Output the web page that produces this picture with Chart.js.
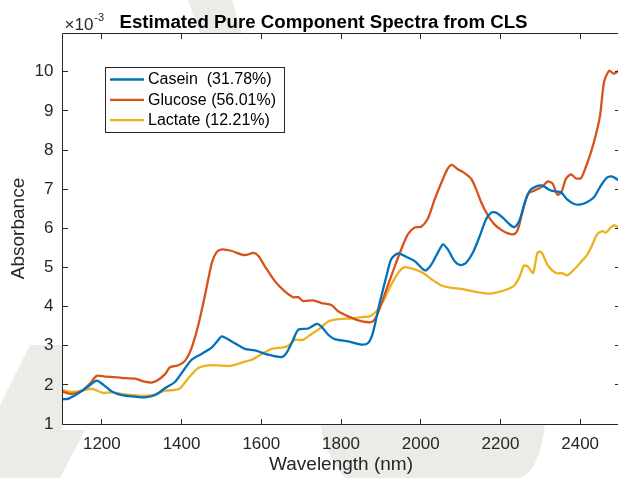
<!DOCTYPE html>
<html>
<head>
<meta charset="utf-8">
<title>Estimated Pure Component Spectra from CLS</title>
<script src="https://cdn.jsdelivr.net/npm/chart.js@4.4.1/dist/chart.umd.min.js"></script>
<style>
  html, body { margin: 0; padding: 0; background: #ffffff; overflow: hidden; }
  #wrap { position: relative; width: 624px; height: 478px; }
</style>
</head>
<body>
<div id="wrap"><canvas id="spectra" width="624" height="478"></canvas></div>
<script>
// Estimated pure-component spectra (absorbance in units of 10^-3) vs wavelength (nm)
const caseinNm = [1100,1117,1142,1167,1187,1204,1225,1250,1283,1308,1334,1359,1384,1409,1425,1450,1476,1490,1501,1526,1559,1584,1618,1651,1663,1680,1693,1718,1739,1751,1768,1784,1818,1851,1868,1880,1897,1914,1926,1943,1960,1985,2006,2014,2027,2043,2056,2068,2085,2100,2114,2131,2148,2164,2177,2189,2206,2223,2235,2248,2260,2273,2290,2306,2323,2339,2352,2368,2385,2402,2418,2435,2452,2468,2481,2500];
const caseinAbs = [1.63,1.65,1.79,1.97,2.11,2.00,1.83,1.74,1.70,1.68,1.74,1.92,2.08,2.43,2.64,2.79,2.96,3.12,3.24,3.11,2.92,2.88,2.77,2.71,2.81,3.15,3.41,3.44,3.56,3.49,3.28,3.17,3.11,3.03,3.07,3.33,4.09,4.78,5.21,5.36,5.29,5.16,4.95,4.93,5.08,5.38,5.59,5.46,5.16,5.06,5.12,5.38,5.80,6.23,6.40,6.40,6.27,6.10,6.03,6.21,6.62,6.95,7.07,7.09,6.98,6.94,6.92,6.73,6.62,6.61,6.67,6.80,7.09,7.30,7.32,7.20];

const glucoseNm = [1100,1125,1150,1171,1187,1208,1233,1258,1283,1308,1325,1342,1359,1371,1392,1409,1425,1442,1459,1476,1488,1501,1526,1551,1563,1580,1593,1609,1634,1659,1680,1693,1705,1730,1751,1776,1793,1818,1843,1868,1880,1893,1914,1935,1951,1968,1985,2001,2018,2035,2052,2067,2078,2093,2110,2127,2139,2152,2169,2185,2202,2219,2234,2244,2256,2269,2285,2304,2319,2331,2343,2353,2364,2377,2389,2402,2414,2427,2439,2450,2460,2473,2484,2500];
const glucoseAbs = [1.83,1.77,1.85,2.04,2.23,2.21,2.20,2.17,2.16,2.08,2.06,2.13,2.28,2.45,2.50,2.62,2.94,3.53,4.30,5.12,5.39,5.46,5.42,5.33,5.32,5.37,5.29,5.03,4.65,4.39,4.24,4.24,4.14,4.16,4.09,4.04,3.88,3.75,3.65,3.60,3.62,3.84,4.44,5.03,5.46,5.85,6.02,6.04,6.25,6.74,7.17,7.51,7.62,7.51,7.41,7.26,7.00,6.66,6.32,6.10,5.96,5.87,5.85,5.98,6.45,6.88,6.96,7.06,7.20,7.14,6.86,6.92,7.26,7.38,7.28,7.28,7.56,7.94,8.37,8.88,9.74,10.03,9.95,10.05];

const lactateNm = [1100,1125,1150,1175,1200,1225,1250,1283,1308,1334,1359,1384,1396,1417,1442,1467,1501,1526,1551,1576,1601,1626,1655,1668,1684,1705,1726,1743,1768,1793,1826,1851,1872,1889,1906,1926,1947,1960,1985,2006,2027,2052,2077,2102,2135,2169,2194,2219,2235,2248,2259,2269,2282,2293,2303,2319,2339,2356,2368,2385,2402,2418,2431,2443,2456,2464,2477,2485,2500];
const lactateAbs = [1.87,1.82,1.85,1.90,1.80,1.81,1.77,1.73,1.72,1.76,1.85,1.87,1.91,2.17,2.43,2.50,2.49,2.49,2.57,2.64,2.79,2.92,2.96,3.00,3.15,3.15,3.30,3.41,3.62,3.68,3.70,3.73,3.75,3.88,4.14,4.56,4.91,5.01,4.95,4.86,4.70,4.54,4.48,4.45,4.38,4.33,4.37,4.45,4.54,4.76,5.05,5.02,4.86,5.38,5.39,5.05,4.86,4.85,4.80,4.95,5.14,5.33,5.59,5.85,5.93,5.89,6.02,6.08,6.00];

const seriesNames = ['Casein  (31.78%)', 'Glucose (56.01%)', 'Lactate (12.21%)'];
const seriesColors = ['#0072BD', '#D95319', '#EDB120'];

const xTickValues = [1200, 1400, 1600, 1800, 2000, 2200, 2400];
const yTickValues = [1, 2, 3, 4, 5, 6, 7, 8, 9, 10];

const titleText = 'Estimated Pure Component Spectra from CLS';
const xAxisTitle = 'Wavelength (nm)';
const yAxisTitle = 'Absorbance';

const FONT = '"Liberation Sans", Arial, Helvetica, sans-serif';
const AXIS_COLOR = '#262626';
const BACKDROP_GRAY = '#ebebe8';

function pairs(xs, ys) {
  return xs.map((x, i) => ({ x: x, y: ys[i] }));
}

const seriesData = [pairs(caseinNm, caseinAbs), pairs(glucoseNm, glucoseAbs), pairs(lactateNm, lactateAbs)];

function crisp(v) { return Math.floor(v) + 0.5; }

// Page backdrop: faint gray shapes in the margins, white plot area on top
const backdrop = {
  id: 'backdrop',
  beforeDraw(chart) {
    const { ctx, width, height, chartArea: a } = chart;
    ctx.save();
    ctx.fillStyle = '#ffffff';
    ctx.fillRect(0, 0, width, height);
    ctx.fillStyle = BACKDROP_GRAY;
    // slanted band above the plot
    ctx.beginPath();
    ctx.moveTo(188, 0); ctx.lineTo(232, 0); ctx.lineTo(242, 34); ctx.lineTo(200, 34);
    ctx.closePath(); ctx.fill();
    // rounded shape below the plot
    ctx.beginPath();
    ctx.moveTo(320, 424);
    ctx.lineTo(545, 424);
    ctx.quadraticCurveTo(540, 470, 520, 478);
    ctx.lineTo(345, 478);
    ctx.quadraticCurveTo(325, 455, 320, 424);
    ctx.closePath(); ctx.fill();
    // slanted band at the lower left
    ctx.beginPath();
    ctx.moveTo(0, 405); ctx.lineTo(30, 345); ctx.lineTo(62, 345); ctx.lineTo(62, 430);
    ctx.lineTo(85, 430); ctx.lineTo(60, 478); ctx.lineTo(0, 478);
    ctx.closePath(); ctx.fill();
    ctx.fillStyle = '#ffffff';
    ctx.fillRect(a.left, a.top, a.right - a.left, a.bottom - a.top);
    ctx.restore();
  }
};

// Box around the axes with inward tick marks on all four sides
const axesBox = {
  id: 'axesBox',
  afterDatasetsDraw(chart) {
    const { ctx, chartArea: a, scales } = chart;
    const L = crisp(a.left), R = crisp(a.right), T = crisp(a.top), B = crisp(a.bottom);
    const len = 5.5;
    ctx.save();
    ctx.strokeStyle = AXIS_COLOR;
    ctx.lineWidth = 1;
    ctx.beginPath();
    ctx.rect(L, T, R - L, B - T);
    xTickValues.forEach(v => {
      const px = crisp(scales.x.getPixelForValue(v));
      ctx.moveTo(px, B); ctx.lineTo(px, B - len);
      ctx.moveTo(px, T); ctx.lineTo(px, T + len);
    });
    yTickValues.forEach(v => {
      const py = crisp(scales.y.getPixelForValue(v));
      ctx.moveTo(L, py); ctx.lineTo(L + len, py);
      ctx.moveTo(R, py); ctx.lineTo(R - len, py);
    });
    ctx.stroke();
    ctx.restore();
  }
};

// Title and the axis multiplier above the plot
const headerText = {
  id: 'headerText',
  afterDraw(chart) {
    const { ctx, chartArea: a } = chart;
    ctx.save();
    ctx.fillStyle = '#000000';
    ctx.textBaseline = 'alphabetic';
    ctx.textAlign = 'left';
    ctx.font = 'bold 18.7px ' + FONT;
    ctx.fillText(titleText, 119.5, 27.5);
    ctx.fillStyle = AXIS_COLOR;
    ctx.font = '17px ' + FONT;
    ctx.fillText('\u00d710', a.left + 2.5, 29.5);
    const w = ctx.measureText('\u00d710').width;
    ctx.font = '11px ' + FONT;
    ctx.fillText('-3', a.left + 2.5 + w + 1, 20.5);
    ctx.restore();
  }
};

// Boxed legend in the upper-left of the plot
const boxedLegend = {
  id: 'boxedLegend',
  afterDatasetsDraw(chart) {
    const { ctx } = chart;
    const x0 = 105.5, y0 = 67.5, w = 179, h = 65;
    ctx.save();
    ctx.fillStyle = '#ffffff';
    ctx.fillRect(x0, y0, w, h);
    ctx.strokeStyle = AXIS_COLOR;
    ctx.lineWidth = 1;
    ctx.strokeRect(x0, y0, w, h);
    ctx.font = '16px ' + FONT;
    ctx.textBaseline = 'middle';
    ctx.textAlign = 'left';
    chart.data.datasets.forEach((ds, i) => {
      const cy = 79.5 + i * 20.3;
      ctx.strokeStyle = ds.borderColor;
      ctx.lineWidth = ds.borderWidth;
      ctx.beginPath();
      ctx.moveTo(110, cy);
      ctx.lineTo(144, cy);
      ctx.stroke();
      ctx.fillStyle = '#000000';
      ctx.fillText(ds.label, 148, cy + 0.5);
    });
    ctx.restore();
  }
};

new Chart(document.getElementById('spectra'), {
  type: 'line',
  data: {
    datasets: seriesData.map((d, i) => ({
      label: seriesNames[i],
      data: d,
      borderColor: seriesColors[i],
      backgroundColor: seriesColors[i],
      borderWidth: 2.3,
      pointRadius: 0,
      tension: 0.25,
      fill: false
    }))
  },
  options: {
    responsive: false,
    animation: false,
    devicePixelRatio: 1,
    layout: { padding: { left: 0, right: 4, top: 33, bottom: 0 } },
    plugins: {
      legend: { display: false },
      title: { display: false },
      tooltip: { enabled: false }
    },
    scales: {
      x: {
        type: 'linear',
        position: 'bottom',
        min: 1100,
        max: 2500,
        grid: { display: false, drawTicks: false },
        border: { display: false },
        afterBuildTicks: s => { s.ticks = xTickValues.map(v => ({ value: v })); },
        afterFit: s => { s.height = 54; },
        ticks: {
          padding: 10.6,
          color: AXIS_COLOR,
          font: { family: FONT, size: 17 },
          maxRotation: 0,
          callback: v => String(v)
        },
        title: {
          display: true,
          text: xAxisTitle,
          color: AXIS_COLOR,
          font: { family: FONT, size: 19 },
          padding: { top: 0, bottom: 1.5 }
        }
      },
      y: {
        type: 'linear',
        position: 'left',
        min: 1,
        max: 10.99,
        grid: { display: false, drawTicks: false },
        border: { display: false },
        afterBuildTicks: s => { s.ticks = yTickValues.map(v => ({ value: v })); },
        afterFit: s => { s.width = 62; },
        ticks: {
          padding: 8.5,
          color: AXIS_COLOR,
          font: { family: FONT, size: 17 },
          callback: v => String(v)
        },
        title: {
          display: true,
          text: yAxisTitle,
          color: AXIS_COLOR,
          font: { family: FONT, size: 19 },
          padding: { top: 7, bottom: 0 }
        }
      }
    }
  },
  plugins: [backdrop, axesBox, boxedLegend, headerText]
});
</script>
</body>
</html>
